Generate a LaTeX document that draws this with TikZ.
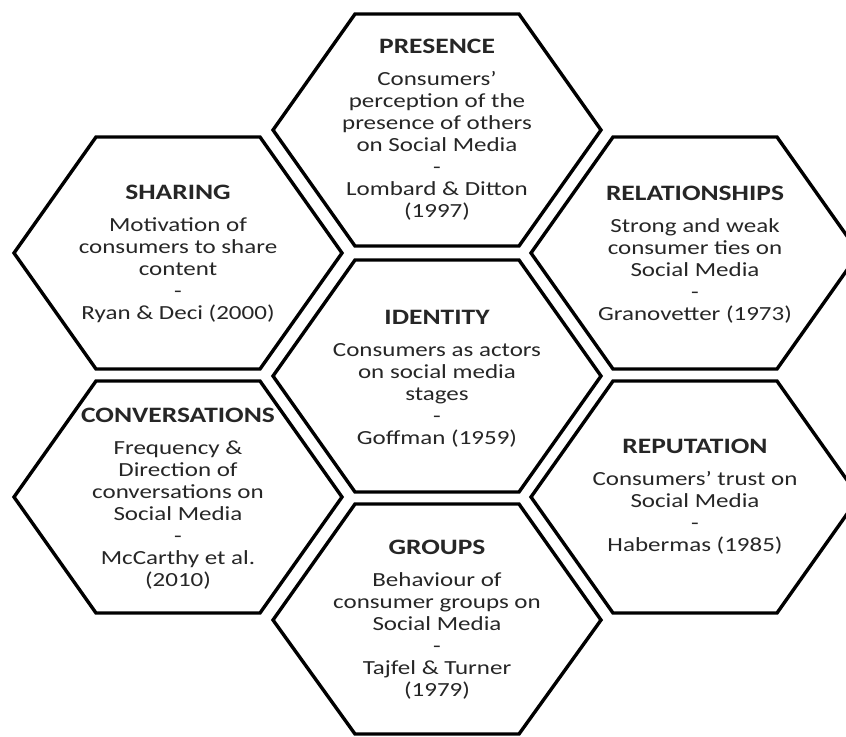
\documentclass[tikz,border=0pt]{standalone}
\usepackage{fontspec}
\setmainfont{Carlito}[FakeStretch=1.25]

\newcommand{\celltitle}[1]{{\fontsize{11}{13}\selectfont\bfseries #1}\\[5pt]}

\begin{document}
\begin{tikzpicture}[x=0.5pt,y=-0.5pt,
  cellborder/.style={draw=black,line width=1.7pt,line join=miter},
  celltext/.style={align=center,text=black!85,inner sep=0pt,font=\fontsize{10}{11}\selectfont}]
\useasboundingbox (0,0) rectangle (846,736);
\fill[white] (0,0) rectangle (846,736);

% middle column
\node[celltext] (presence) at (437,130) {\celltitle{PRESENCE}Consumers'\\perception of the\\presence of others\\on Social Media\\-\\Lombard \& Ditton\\(1997)};
\node[celltext] (identity) at (437,379) {\celltitle{IDENTITY}Consumers as actors\\on social media\\stages\\-\\Goffman (1959)};
\node[celltext] (groups) at (437,620) {\celltitle{GROUPS}Behaviour of\\consumer groups on\\Social Media\\-\\Tajfel \& Turner\\(1979)};
% left column
\node[celltext] (sharing) at (178,254) {\celltitle{SHARING}Motivation of\\consumers to share\\content\\-\\Ryan \& Deci (2000)};
\node[celltext] (conversations) at (178,499) {\celltitle{CONVERSATIONS}Frequency \&\\Direction of\\conversations on\\Social Media\\-\\McCarthy et al.\\(2010)};
% right column
\node[celltext] (relationships) at (695,255) {\celltitle{RELATIONSHIPS}Strong and weak\\consumer ties on\\Social Media\\-\\Granovetter (1973)};
\node[celltext] (reputation) at (695,497) {\celltitle{REPUTATION}Consumers' trust on\\Social Media\\-\\Habermas (1985)};

% hexagons around the texts
\draw[cellborder] (437,130) ++(-164,0) -- ++(82,-116) -- ++(164,0) -- ++(82,116) -- ++(-82,116) -- ++(-164,0) -- cycle;
\draw[cellborder] (437,376) ++(-164,0) -- ++(82,-116) -- ++(164,0) -- ++(82,116) -- ++(-82,116) -- ++(-164,0) -- cycle;
\draw[cellborder] (437,620) ++(-164,0) -- ++(82,-116) -- ++(164,0) -- ++(82,116) -- ++(-82,114) -- ++(-164,0) -- cycle;
\draw[cellborder] (178,253) ++(-164,0) -- ++(82,-116) -- ++(164,0) -- ++(82,116) -- ++(-82,116) -- ++(-164,0) -- cycle;
\draw[cellborder] (178,497) ++(-164,0) -- ++(82,-116) -- ++(164,0) -- ++(82,116) -- ++(-82,116) -- ++(-164,0) -- cycle;
\draw[cellborder] (695,253) ++(-164,0) -- ++(82,-116) -- ++(164,0) -- ++(82,116) -- ++(-82,116) -- ++(-164,0) -- cycle;
\draw[cellborder] (695,497) ++(-164,0) -- ++(82,-116) -- ++(164,0) -- ++(82,116) -- ++(-82,116) -- ++(-164,0) -- cycle;
\end{tikzpicture}
\end{document}
